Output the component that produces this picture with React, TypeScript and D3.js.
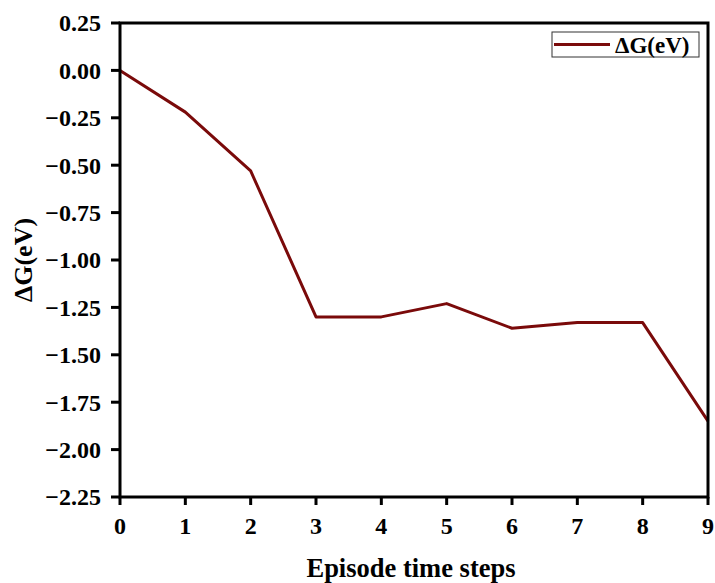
import { useMemo } from "react";
import * as d3 from "d3";

const WIDTH = 715;
const HEIGHT = 583;
const MARGIN = { top: 23, right: 7, bottom: 86, left: 120 };

const steps = [0, 1, 2, 3, 4, 5, 6, 7, 8, 9];
const deltaG = [0.0, -0.22, -0.53, -1.3, -1.3, -1.23, -1.36, -1.33, -1.33, -1.85];
const yTicks = [0.25, 0, -0.25, -0.5, -0.75, -1.0, -1.25, -1.5, -1.75, -2.0, -2.25];

const LINE_COLOR = "#7a0a0a";
const FONT = "'Liberation Serif', 'Times New Roman', serif";

export default function App() {
  const boundsWidth = WIDTH - MARGIN.left - MARGIN.right;
  const boundsHeight = HEIGHT - MARGIN.top - MARGIN.bottom;

  const xScale = useMemo(
    () => d3.scaleLinear().domain([0, 9]).range([0, boundsWidth]),
    [boundsWidth]
  );
  const yScale = useMemo(
    () => d3.scaleLinear().domain([-2.25, 0.25]).range([boundsHeight, 0]),
    [boundsHeight]
  );

  const linePath = d3
    .line<number>()
    .x((_, i) => xScale(steps[i]))
    .y((d) => yScale(d))(deltaG);

  const fmt = (v: number) => {
    const s = Math.abs(v).toFixed(2);
    return v < 0 ? "\u2212" + s : s;
  };

  return (
    <svg width={WIDTH} height={HEIGHT} style={{ position: "absolute", left: 0, top: 0 }}>
      <rect width={WIDTH} height={HEIGHT} fill="white" />
      <g transform={`translate(${MARGIN.left},${MARGIN.top})`}>
        <path d={linePath ?? ""} fill="none" stroke={LINE_COLOR} strokeWidth={3} strokeLinejoin="round" />

        {/* frame */}
        <rect width={boundsWidth} height={boundsHeight} fill="none" stroke="black" strokeWidth={3} />

        {/* y ticks */}
        {yTicks.map((t) => (
          <g key={t} transform={`translate(0,${yScale(t)})`}>
            <line x1={-9} x2={0} stroke="black" strokeWidth={3} />
            <text
              x={-19}
              dy="0.35em"
              textAnchor="end"
              fontFamily={FONT}
              fontWeight="bold"
              fontSize={24}
            >
              {fmt(t)}
            </text>
          </g>
        ))}

        {/* x ticks */}
        {steps.map((t) => (
          <g key={t} transform={`translate(${xScale(t)},${boundsHeight})`}>
            <line y1={0} y2={8} stroke="black" strokeWidth={3} />
            <text
              y={37}
              textAnchor="middle"
              fontFamily={FONT}
              fontWeight="bold"
              fontSize={24}
            >
              {t}
            </text>
          </g>
        ))}

        {/* legend */}
        <g transform={`translate(${boundsWidth - 156},${9})`}>
          <rect width={147} height={25} fill="white" stroke="#333" strokeWidth={1} />
          <line x1={2} x2={58} y1={12.5} y2={12.5} stroke={LINE_COLOR} strokeWidth={3} />
          <text
            x={63}
            y={12.5}
            dy="0.35em"
            fontFamily={FONT}
            fontWeight="bold"
            fontSize={23}
          >
            ΔG(eV)
          </text>
        </g>
      </g>

      <text
        x={MARGIN.left + boundsWidth / 2 - 3}
        y={577}
        textAnchor="middle"
        fontFamily={FONT}
        fontWeight="bold"
        fontSize={26.5}
      >
        Episode time steps
      </text>
      <text
        transform={`translate(32,${MARGIN.top + boundsHeight / 2}) rotate(-90)`}
        textAnchor="middle"
        fontFamily={FONT}
        fontWeight="bold"
        fontSize={26}
      >
        ΔG(eV)
      </text>
    </svg>
  );
}
